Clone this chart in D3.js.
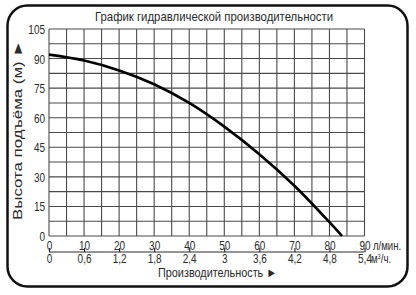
<!DOCTYPE html>
<html><head><meta charset="utf-8">
<script src="https://cdn.jsdelivr.net/npm/d3@7"></script>
<style>
html,body{margin:0;padding:0;background:#fff;}
svg{display:block;}
text{font-family:"Liberation Sans",Arial,sans-serif;fill:#2a2a2a;}
</style></head>
<body>
<svg id="c" width="416" height="295"></svg>
<script>
const title = "График гидравлической производительности";
const yLabel = "Высота подъёма (м) ►";
const xLabel = "Производительность ►";
const flowLmin = [0, 10, 20, 30, 40, 50, 60, 70, 80, 83.6];
const headM = [92, 89, 84, 77, 67.5, 55.5, 41.5, 25.5, 7, 0];
const yTicks = [0, 15, 30, 45, 60, 75, 90, 105];
const xTicksLmin = [0, 10, 20, 30, 40, 50, 60, 70, 80, 90];
const xTicksM3h = ["0", "0,6", "1,2", "1,8", "2,4", "3", "3,6", "4,2", "4,8", "5,4"];
const xGrid = d3.range(0, 90.01, 5);
const yGrid = d3.range(0, 105.01, 7.5);

const NARROW = 0.8;
const svg = d3.select("#c");
const x = d3.scaleLinear().domain([0, 90]).range([49, 364.5]);
const y = d3.scaleLinear().domain([0, 105]).range([236, 29]);

// frame
svg.append("rect").attr("x", 7.5).attr("y", 5.5).attr("width", 400).attr("height", 281)
  .attr("rx", 20).attr("ry", 20).attr("fill", "#fff").attr("stroke", "#111").attr("stroke-width", 2.5);

// title
svg.append("text").attr("x", 214).attr("y", 20.5).attr("text-anchor", "middle")
  .attr("font-size", 13).attr("textLength", 238).attr("lengthAdjust", "spacingAndGlyphs").text(title);

// grid
const g = svg.append("g");
g.selectAll("line.v").data(xGrid).join("line")
  .attr("x1", d => x(d)).attr("x2", d => x(d)).attr("y1", y(0)).attr("y2", y(105))
  .attr("stroke", "#4a4a4a").attr("stroke-width", 1.1);
g.selectAll("line.h").data(yGrid).join("line")
  .attr("x1", x(0)).attr("x2", x(90)).attr("y1", d => y(d)).attr("y2", d => y(d))
  .attr("stroke", "#4a4a4a").attr("stroke-width", 1.1);

function styleTicks(sel) {
  sel.attr("font-size", 12.5).attr("font-family", null).attr("fill", "#2a2a2a");
  sel.each(function () {
    const t = d3.select(this);
    const tx = +t.attr("x") || 0;
    t.attr("transform", `translate(${tx},0) scale(${NARROW},1)`).attr("x", 0);
  });
}

// y axis labels
const ya = svg.append("g").attr("transform", `translate(${x(0) - 4},0)`)
  .call(d3.axisLeft(y).tickValues(yTicks).tickSize(0).tickPadding(0).tickFormat(d3.format("d")));
ya.select(".domain").remove();
ya.selectAll("text").attr("dy", "0.36em").call(styleTicks);

// x axis row 1 (л/мин)
const xa = svg.append("g").attr("transform", `translate(0,252)`)
  .call(d3.axisTop(x).tickValues(xTicksLmin).tickSize(4).tickPadding(-1.5).tickFormat(d3.format("d")));
xa.select(".domain").attr("d", `M${x(0)},0H${x(90)}`).attr("stroke", "#2a2a2a").attr("stroke-width", 1.2);
xa.selectAll(".tick line").attr("stroke", "#2a2a2a").attr("stroke-width", 1.2);
xa.selectAll("text").call(styleTicks);

// x axis row 2 (м3/ч)
const xb = svg.append("g").attr("transform", `translate(0,252)`)
  .call(d3.axisBottom(x).tickValues(xTicksLmin).tickSize(0).tickPadding(2.5)
    .tickFormat((d, i) => xTicksM3h[i]));
xb.select(".domain").remove();
xb.selectAll("text").call(styleTicks);

// unit labels
svg.append("text").attr("transform", `translate(${x(90) + 8.5},249.5) scale(${NARROW},1)`)
  .attr("font-size", 12).text("л/мин.");
const u2 = svg.append("text").attr("transform", `translate(${x(90) + 6.5},263) scale(${NARROW},1)`)
  .attr("font-size", 12);
u2.append("tspan").text("м");
u2.append("tspan").attr("dy", -4.5).attr("font-size", 7).text("3");
u2.append("tspan").attr("dy", 4.5).text("/ч.");

// x label
svg.append("text").attr("x", 217.5).attr("y", 276.5).attr("text-anchor", "middle")
  .attr("font-size", 13).attr("textLength", 119).attr("lengthAdjust", "spacingAndGlyphs").text(xLabel);

// y label
svg.append("text").attr("transform", "translate(21.5,130) rotate(-90)").attr("text-anchor", "middle")
  .attr("font-size", 13).attr("textLength", 180).attr("lengthAdjust", "spacingAndGlyphs").text(yLabel);

// curve
const line = d3.line().x(d => x(d[0])).y(d => y(d[1])).curve(d3.curveCatmullRom.alpha(0.5));
svg.append("path").datum(flowLmin.map((f, i) => [f, headM[i]]))
  .attr("d", line).attr("fill", "none").attr("stroke", "#000").attr("stroke-width", 2.6);
</script>
</body></html>
